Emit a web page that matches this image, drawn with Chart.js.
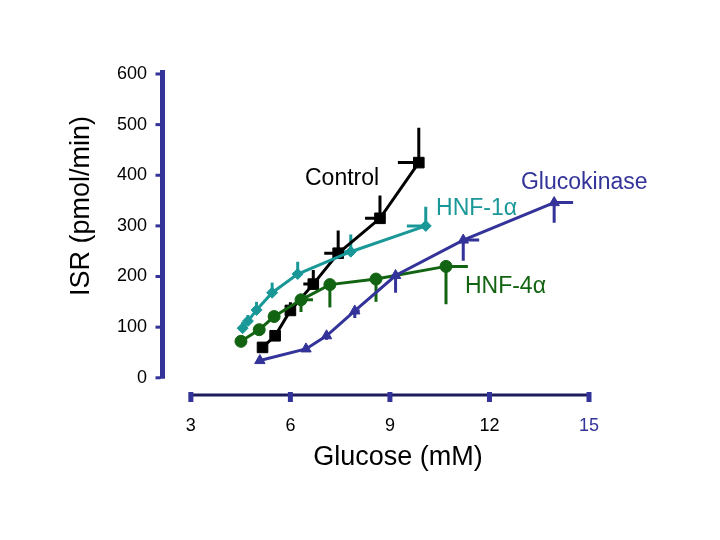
<!DOCTYPE html>
<html lang="en">
<head>
<meta charset="UTF-8">
<title>ISR vs Glucose</title>
<script src="https://cdn.jsdelivr.net/npm/chart.js"></script>
<style>
  body { margin: 0; background: #fff; }
  #wrap { width: 720px; height: 540px; }
</style>
</head>
<body>
<div id="wrap"><canvas id="isrChart" width="720" height="540"></canvas></div>
<script>
// glucose (mM) vs ISR (pmol/min)
const controlX   = [5.16, 5.54, 6.00, 6.69, 7.44, 8.70, 9.87];
const controlY   = [60, 83, 133, 185, 246, 315, 425];
const controlXErr = [0, 0, 0.15, 0.30, 0.42, 0.45, 0.63];
const controlYErr = [0, 0, 16, 28, 45, 45, 69];

const hnf1X   = [4.56, 4.72, 4.98, 5.45, 6.22, 7.82, 10.08];
const hnf1Y   = [98, 112, 134, 168, 205, 249, 300];
const hnf1XErr = [0, 0, 0, 0, 0.15, 0.25, 0.57];
const hnf1YErr = [12, 12, 16, 20, 24, 34, 38];

const hnf4X   = [4.51, 5.06, 5.51, 6.32, 7.19, 8.58, 10.69];
const hnf4Y   = [72, 95, 121, 154, 184, 195, 220];
const hnf4XErr = [0, 0, 0, 0.36, 0, 0, 0.66];
const hnf4YErr = [0, 0, 8, 24, 45, 45, 75];

const gckX   = [5.08, 6.47, 7.09, 7.94, 9.17, 11.21, 13.95];
const gckY   = [34, 57, 83, 132, 202, 272, 346];
const gckXErr = [0, 0, 0, 0.15, 0, 0.48, 0.57];
const gckYErr = [0, 0, 8, 14, 34, 41, 40];

const xTicks = [3, 6, 9, 12, 15];
const yTicks = [0, 100, 200, 300, 400, 500, 600];

const FONT = '"Liberation Sans", Arial, sans-serif';
const NAVY = '#333399';
const TEAL = '#1a9898';
const GREEN = '#126412';

const pts = (xs, ys) => xs.map((v, i) => ({ x: v, y: ys[i] }));

// error bars are one-sided in the original: up/left for control & HNF-1a, down/right for the others
const errorBars = {
  id: 'errorBars',
  beforeDatasetsDraw(chart) {
    const { ctx, scales: { x, y } } = chart;
    chart.data.datasets.forEach(ds => {
      ctx.save();
      ctx.strokeStyle = ds.borderColor;
      ctx.lineWidth = 3;
      ds.data.forEach((p, i) => {
        const px = x.getPixelForValue(p.x), py = y.getPixelForValue(p.y);
        ctx.beginPath();
        if (ds.yErr[i]) {
          ctx.moveTo(px, py);
          ctx.lineTo(px, y.getPixelForValue(p.y + ds.ySign * ds.yErr[i]));
        }
        if (ds.xErr[i]) {
          ctx.moveTo(px, py);
          ctx.lineTo(x.getPixelForValue(p.x + ds.xSign * ds.xErr[i]), py);
        }
        ctx.stroke();
      });
      ctx.restore();
    });
  }
};

// the detached axis lines and titles
const axesDeco = {
  id: 'axesDeco',
  afterDraw(chart) {
    const { ctx, chartArea, scales: { x, y } } = chart;
    ctx.save();
    // y axis
    const ax = chartArea.left + 1.5;
    ctx.strokeStyle = NAVY;
    ctx.lineWidth = 5;
    ctx.beginPath();
    ctx.moveTo(ax, y.getPixelForValue(600) - 4);
    ctx.lineTo(ax, y.getPixelForValue(0) + 1);
    ctx.stroke();
    ctx.fillStyle = NAVY;
    yTicks.forEach(v => ctx.fillRect(ax - 7, y.getPixelForValue(v) - 1.5, 5, 3));
    // x axis
    const ay = chartArea.bottom;
    ctx.strokeStyle = '#1c1c5c';
    ctx.lineWidth = 3;
    ctx.beginPath();
    ctx.moveTo(x.getPixelForValue(3) - 2, ay);
    ctx.lineTo(x.getPixelForValue(15) + 1, ay);
    ctx.stroke();
    xTicks.forEach(v => ctx.fillRect(x.getPixelForValue(v) - 2.5, ay - 3, 5, 10));

    // titles
    ctx.fillStyle = '#000';
    ctx.textAlign = 'center';
    ctx.textBaseline = 'middle';
    ctx.font = '27px ' + FONT;
    ctx.fillText('Glucose (mM)', 398, 458);
    ctx.translate(82, 206);
    ctx.rotate(-Math.PI / 2);
    ctx.fillText('ISR (pmol/min)', 0, 0);
    ctx.restore();

    // series labels
    ctx.save();
    ctx.font = '23px ' + FONT;
    ctx.textAlign = 'left';
    ctx.textBaseline = 'alphabetic';
    const label = (t, vx, vy, c) => {
      ctx.fillStyle = c;
      ctx.fillText(t, x.getPixelForValue(vx), y.getPixelForValue(vy));
    };
    label('Control', 6.44, 381, '#000');
    label('HNF-1\u03b1', 10.39, 322, TEAL);
    label('Glucokinase', 12.95, 373, NAVY);
    label('HNF-4\u03b1', 11.26, 168, GREEN);
    ctx.restore();
  }
};

const mkSet = (label, xs, ys, xe, ye, xSign, ySign, color, style, radius) => ({
  label, data: pts(xs, ys), xErr: xe, yErr: ye, xSign, ySign,
  borderColor: color, backgroundColor: color,
  borderWidth: 3, pointStyle: style, pointRadius: radius,
  pointBorderWidth: 1, tension: 0, showLine: true
});

new Chart(document.getElementById('isrChart'), {
  type: 'scatter',
  data: {
    datasets: [
      mkSet('Glucokinase', gckX, gckY, gckXErr, gckYErr, 1, -1, NAVY, 'triangle', 6),
      mkSet('HNF-4\u03b1', hnf4X, hnf4Y, hnf4XErr, hnf4YErr, 1, -1, GREEN, 'circle', 6),
      mkSet('HNF-1\u03b1', hnf1X, hnf1Y, hnf1XErr, hnf1YErr, -1, 1, TEAL, 'rectRot', 5.5),
      mkSet('Control', controlX, controlY, controlXErr, controlYErr, -1, 1, '#000', 'rect', 7.5)
    ]
  },
  options: {
    responsive: false,
    animation: false,
    layout: { padding: { left: 0, top: 74, right: 131, bottom: 0 } },
    plugins: { legend: { display: false }, tooltip: { enabled: false } },
    scales: {
      x: {
        type: 'linear', min: 2.1, max: 15,
        afterBuildTicks: s => { s.ticks = xTicks.map(v => ({ value: v })); },
        afterFit: s => { s.height = 145; },
        grid: { display: false, drawTicks: false },
        border: { display: false },
        ticks: {
          padding: 20, font: { size: 18, family: FONT },
          color: c => (c.tick && c.tick.value === 15 ? NAVY : '#000')
        }
      },
      y: {
        type: 'linear', min: -34, max: 600,
        afterBuildTicks: s => { s.ticks = yTicks.map(v => ({ value: v })); },
        afterFit: s => { s.width = 161; },
        grid: { display: false, drawTicks: false },
        border: { display: false },
        ticks: { padding: 14, font: { size: 18, family: FONT }, color: '#000' }
      }
    }
  },
  plugins: [errorBars, axesDeco]
});
</script>
</body>
</html>
